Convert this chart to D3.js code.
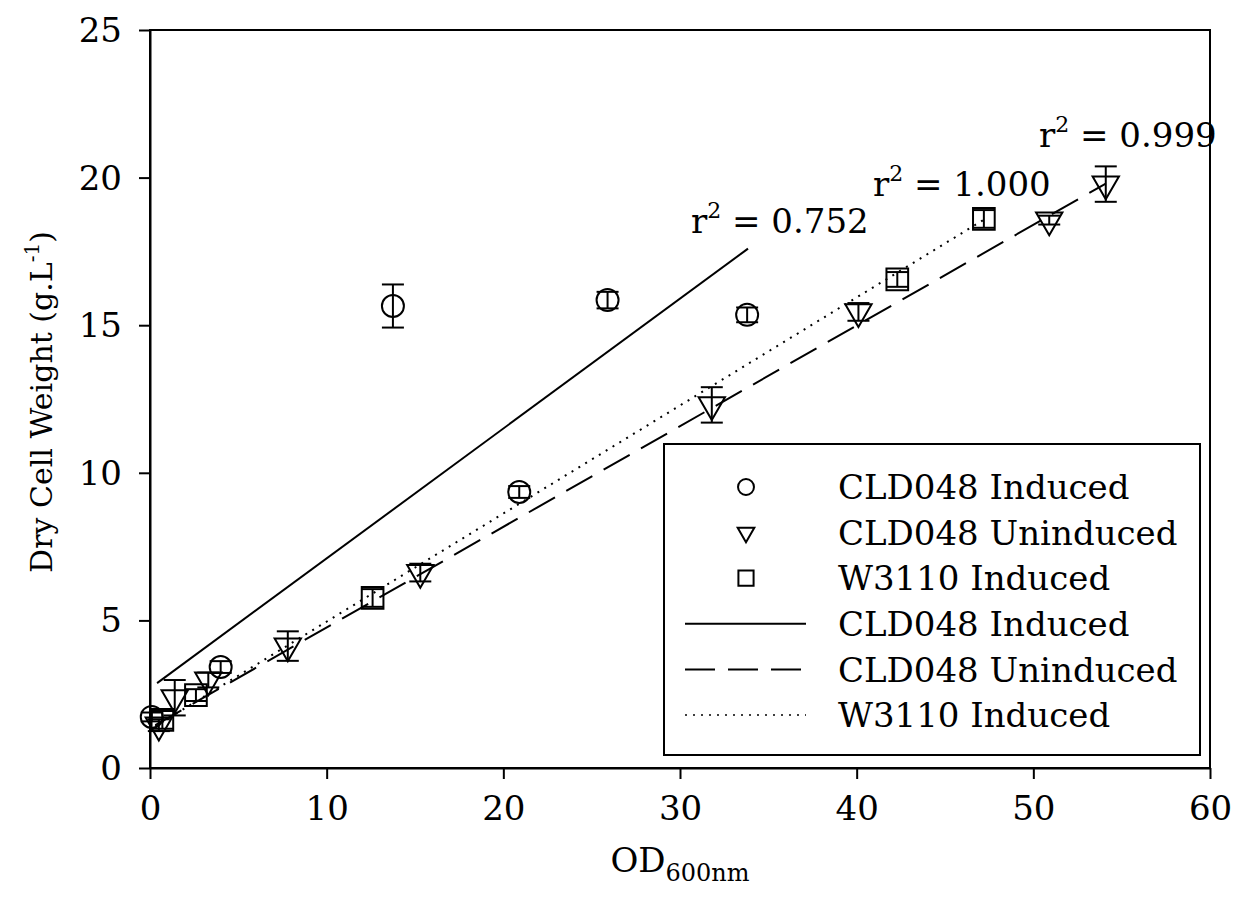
<!DOCTYPE html>
<html>
<head>
<meta charset="utf-8">
<script src="https://cdn.jsdelivr.net/npm/d3@7"></script>
<style>
  body { margin: 0; background: #fff; }
  text { font-family: "DejaVu Serif", serif; fill: #000; }
</style>
</head>
<body>
<div id="chart"></div>
<script>
// data
const xTicks = [0, 10, 20, 30, 40, 50, 60]
const yTicks = [0, 5, 10, 15, 20, 25]

// CLD048 Induced (circles)
const indX = [0.1, 4.0, 13.75, 20.9, 25.9, 33.8]
const indY = [1.73, 3.42, 15.65, 9.35, 15.85, 15.35]
const indErr = [0.15, 0.2, 0.73, 0.2, 0.28, 0.25]

// CLD048 Uninduced (triangles)
const uniX = [0.5, 1.4, 3.3, 7.8, 15.3, 31.8, 40.1, 50.9, 54.1]
const uniY = [1.45, 2.38, 2.98, 4.13, 6.62, 12.3, 15.45, 18.56, 19.78]
const uniErr = [0.2, 0.6, 0.25, 0.5, 0.3, 0.6, 0.3, 0.15, 0.6]

// W3110 Induced (squares)
const w3X = [0.7, 2.6, 12.6, 42.3, 47.2]
const w3Y = [1.63, 2.47, 5.76, 16.55, 18.6]
const w3Err = [0.3, 0.2, 0.3, 0.25, 0.3]

// linear fits
const fitNames = ['CLD048 Induced', 'CLD048 Uninduced', 'W3110 Induced']
const fitSlope = [0.44, 0.341, 0.366]
const fitIntercept = [2.7, 1.35, 1.3]
const fitFrom = [0.4, 0.3, 0.3]
const fitTo = [33.85, 54.1, 47.2]
const fitR2 = ['0.752', '0.999', '1.000']

const W = 1233, H = 908
const mLeft = 150, mRight = 1210, mTop = 30, mBottom = 768

const svg = d3.select('#chart').append('svg')
  .attr('width', W).attr('height', H)

const x = d3.scaleLinear().domain([0, 60]).range([mLeft, mRight])
const y = d3.scaleLinear().domain([0, 25]).range([mBottom, mTop])

// frame
svg.append('rect')
  .attr('x', mLeft).attr('y', mTop)
  .attr('width', mRight - mLeft).attr('height', mBottom - mTop)
  .attr('fill', 'none').attr('stroke', '#000').attr('stroke-width', 2)

// axes
const xAxis = svg.append('g')
  .attr('transform', 'translate(0,' + mBottom + ')')
  .call(d3.axisBottom(x).tickValues(xTicks).tickSize(11).tickPadding(17).tickSizeOuter(0))
const yAxis = svg.append('g')
  .attr('transform', 'translate(' + mLeft + ',0)')
  .call(d3.axisLeft(y).tickValues(yTicks).tickSize(11).tickPadding(17).tickSizeOuter(0))
;[xAxis, yAxis].forEach(a => {
  a.select('.domain').attr('stroke-width', 2)
  a.selectAll('.tick line').attr('stroke-width', 2)
  a.selectAll('.tick text')
    .attr('font-family', '"DejaVu Serif", serif')
    .attr('font-size', 34)
})
yAxis.selectAll('.tick text').attr('dy', '0.34em')

// axis titles
const xt = svg.append('text')
  .attr('x', 680).attr('y', 872)
  .attr('text-anchor', 'middle')
  .attr('font-size', 34)
xt.append('tspan').text('OD')
xt.append('tspan').attr('font-size', 24).attr('dy', 9).text('600nm')

const yt = svg.append('text')
  .attr('transform', 'translate(52,402) rotate(-90)')
  .attr('text-anchor', 'middle')
  .attr('font-size', 30)
yt.append('tspan').text('Dry Cell Weight (g.L')
yt.append('tspan').attr('font-size', 20).attr('dy', -13).text('-1')
yt.append('tspan').attr('dy', 13).text(')')

// fit lines
const dashes = [null, '30,13', '2,6']
const plot = svg.append('g')
fitNames.forEach((n, i) => {
  const line = d3.line().x(d => x(d)).y(d => y(fitIntercept[i] + fitSlope[i] * d))
  plot.append('path')
    .attr('d', line([fitFrom[i], fitTo[i]]))
    .attr('fill', 'none')
    .attr('stroke', '#000')
    .attr('stroke-width', 2)
    .attr('stroke-dasharray', dashes[i])
})

// r2 labels
const r2Pos = [[691, 233], [1039, 147], [873, 196]]
fitR2.forEach((v, i) => {
  const t = svg.append('text')
    .attr('x', r2Pos[i][0]).attr('y', r2Pos[i][1])
    .attr('font-size', 34)
  t.append('tspan').text('r')
  t.append('tspan').attr('font-size', 22).attr('dy', -15).text('2')
  t.append('tspan').attr('dy', 15).text(' = ' + v)
})

// markers + error bars
const series = [
  { xs: indX, ys: indY, err: indErr, sym: d3.symbolCircle, size: 380, rot: 0 },
  { xs: uniX, ys: uniY, err: uniErr, sym: d3.symbolTriangle, size: 300, rot: 180 },
  { xs: w3X, ys: w3Y, err: w3Err, sym: d3.symbolSquare, size: 470, rot: 0 }
]
const cap = 11
series.forEach(s => {
  const g = plot.append('g')
  s.xs.forEach((xv, i) => {
    const px = x(xv), py = y(s.ys[i])
    const y1 = y(s.ys[i] + s.err[i]), y2 = y(s.ys[i] - s.err[i])
    g.append('line').attr('x1', px).attr('x2', px).attr('y1', y1).attr('y2', y2)
      .attr('stroke', '#000').attr('stroke-width', 2)
    ;[y1, y2].forEach(yy => {
      g.append('line').attr('x1', px - cap).attr('x2', px + cap).attr('y1', yy).attr('y2', yy)
        .attr('stroke', '#000').attr('stroke-width', 2)
    })
    g.append('path')
      .attr('d', d3.symbol().type(s.sym).size(s.size)())
      .attr('transform', 'translate(' + px + ',' + py + ') rotate(' + s.rot + ')')
      .attr('fill', 'none').attr('stroke', '#000').attr('stroke-width', 2)
  })
})

// legend
const leg = svg.append('g')
leg.append('rect')
  .attr('x', 664).attr('y', 444).attr('width', 536).attr('height', 311)
  .attr('fill', '#fff').attr('stroke', '#000').attr('stroke-width', 2)
const legY = d3.scaleLinear().domain([0, 5]).range([487, 715])
const legSym = [d3.symbolCircle, d3.symbolTriangle, d3.symbolSquare]
const legSize = [200, 120, 230]
legSym.forEach((s, i) => {
  leg.append('path')
    .attr('d', d3.symbol().type(s).size(legSize[i])())
    .attr('transform', 'translate(746,' + legY(i) + ') rotate(' + (i === 1 ? 180 : 0) + ')')
    .attr('fill', 'none').attr('stroke', '#000').attr('stroke-width', 2)
  leg.append('text').attr('x', 838).attr('y', legY(i)).attr('dy', '0.36em')
    .attr('font-size', 34).text(fitNames[i])
})
fitNames.forEach((n, i) => {
  const yy = legY(i + 3)
  leg.append('line').attr('x1', 685).attr('x2', 806).attr('y1', yy).attr('y2', yy)
    .attr('stroke', '#000').attr('stroke-width', i === 2 ? 1.5 : 2)
    .attr('stroke-dasharray', dashes[i])
  leg.append('text').attr('x', 838).attr('y', yy).attr('dy', '0.36em')
    .attr('font-size', 34).text(n)
})
</script>
</body>
</html>
